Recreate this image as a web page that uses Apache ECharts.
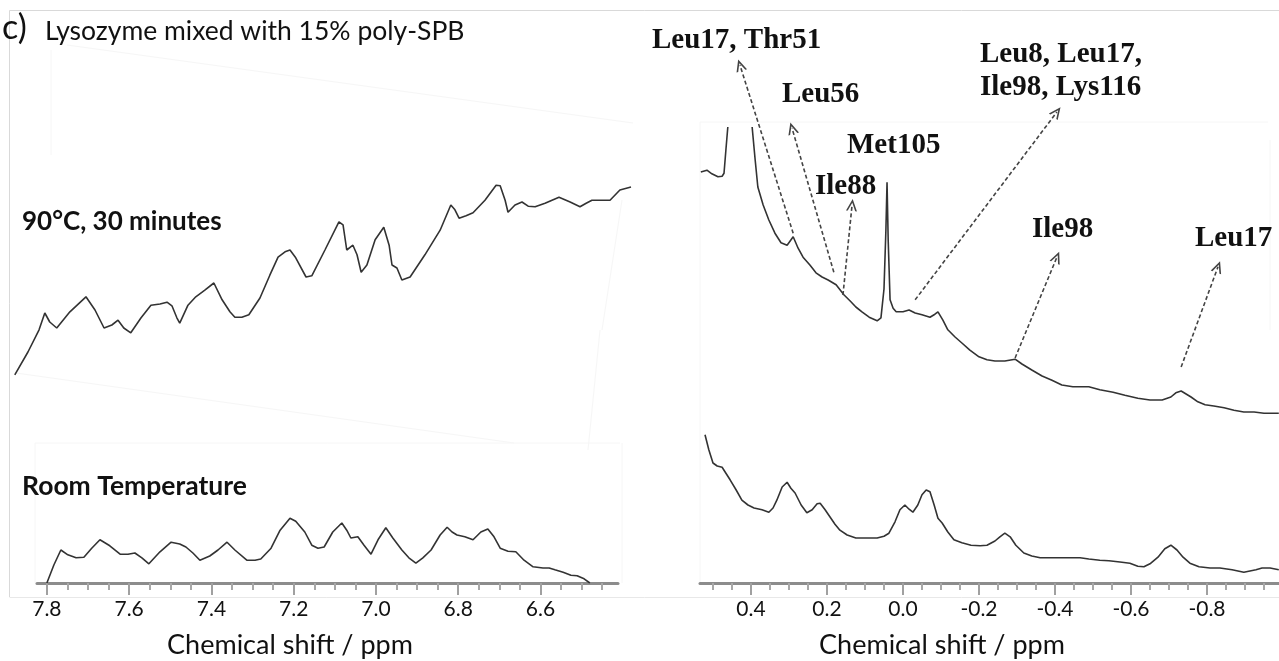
<!DOCTYPE html>
<html><head><meta charset="utf-8">
<script src="https://cdn.jsdelivr.net/npm/echarts@6/dist/echarts.min.js"></script>
<style>html,body{margin:0;padding:0;background:#fff}#c{width:1279px;height:661px}</style>
</head><body><div id="c"></div>
<script>
// ---- tick labels ----
const aromaticTicks = [7.8, 7.6, 7.4, 7.2, 7.0, 6.8, 6.6];
const methylTicks = [0.4, 0.2, 0.0, -0.2, -0.4, -0.6, -0.8];

// ---- spectra: [chemical shift ppm, intensity a.u.] ----
const aromaticHeated = [
[7.878,34.7],[7.846,38.5],[7.819,42.2],[7.805,45.0],[7.793,43.5],[7.776,42.5],[7.744,45.2],[7.705,47.7],
[7.683,45.5],[7.661,42.5],[7.642,43.0],[7.627,43.8],[7.613,42.5],[7.596,41.7],[7.571,44.2],[7.547,46.3],
[7.525,46.5],[7.508,46.8],[7.496,46.2],[7.484,44.2],[7.477,43.3],[7.457,46.3],[7.438,47.7],[7.416,48.8],
[7.394,50.0],[7.374,47.2],[7.355,45.2],[7.343,44.3],[7.326,44.3],[7.309,44.7],[7.282,47.5],[7.258,51.3],
[7.238,54.3],[7.221,55.2],[7.209,55.5],[7.195,54.2],[7.170,51.0],[7.156,51.2],[7.124,55.5],[7.090,60.2],
[7.080,59.7],[7.071,55.5],[7.056,56.3],[7.046,54.7],[7.036,51.8],[7.022,53.0],[7.002,57.2],[6.981,59.3],
[6.968,56.3],[6.961,53.0],[6.949,52.5],[6.937,50.5],[6.917,51.0],[6.881,54.7],[6.844,58.8],[6.818,63.0],
[6.808,62.2],[6.798,60.8],[6.781,61.2],[6.764,61.7],[6.735,63.8],[6.708,66.3],[6.698,66.2],[6.686,63.8],
[6.679,61.8],[6.662,63.0],[6.645,63.5],[6.630,62.8],[6.613,62.7],[6.589,63.3],[6.555,64.3],[6.528,63.5],
[6.504,62.7],[6.489,63.3],[6.475,63.8],[6.450,63.8],[6.431,63.8],[6.407,65.5],[6.380,66.0]
];
const aromaticRoom = [
[7.800,0.0],[7.783,3.0],[7.766,5.5],[7.749,4.7],[7.729,4.2],[7.710,4.3],[7.691,5.8],[7.671,7.2],
[7.647,6.2],[7.622,4.8],[7.603,4.8],[7.586,5.0],[7.569,4.2],[7.552,3.2],[7.525,5.2],[7.498,6.8],
[7.477,6.5],[7.462,6.0],[7.445,5.0],[7.428,3.8],[7.404,4.5],[7.384,5.5],[7.362,6.8],[7.343,5.5],
[7.314,3.8],[7.294,3.8],[7.280,4.0],[7.255,5.8],[7.233,8.8],[7.209,10.8],[7.195,10.3],[7.173,8.5],
[7.156,6.3],[7.141,5.8],[7.126,6.0],[7.105,8.5],[7.083,10.0],[7.071,8.8],[7.061,7.5],[7.044,7.7],
[7.029,6.3],[7.012,4.8],[6.995,7.2],[6.976,9.2],[6.959,7.5],[6.937,5.5],[6.920,4.2],[6.903,3.3],
[6.886,4.2],[6.866,5.5],[6.844,8.0],[6.827,9.3],[6.815,8.5],[6.803,8.0],[6.784,7.7],[6.764,7.2],
[6.745,8.5],[6.728,9.0],[6.713,7.7],[6.698,5.8],[6.679,5.3],[6.660,5.2],[6.640,3.8],[6.618,2.7],
[6.594,2.5],[6.579,2.5],[6.565,2.2],[6.545,1.8],[6.526,1.3],[6.511,1.2],[6.494,0.7],[6.480,0.0]
];
const methylHeated = [
[0.532,68.5],[0.516,68.8],[0.503,68.2],[0.487,67.7],[0.476,67.8],[0.471,68.3],[0.466,72.2],[0.461,76.0],
[0.430,'-'],
[0.397,76.0],[0.389,70.5],[0.382,66.0],[0.368,63.0],[0.353,60.5],[0.337,58.3],[0.321,56.7],[0.305,56.3],
[0.289,57.7],[0.276,55.8],[0.263,54.3],[0.245,53.0],[0.229,51.7],[0.213,51.0],[0.197,50.5],[0.176,49.7],
[0.155,48.0],[0.139,47.0],[0.124,46.0],[0.108,45.2],[0.089,44.3],[0.068,43.7],[0.058,44.2],[0.050,49.0],
[0.045,58.8],[0.042,66.8],[0.039,57.2],[0.034,47.2],[0.026,45.8],[0.018,45.2],[0.000,45.2],[-0.016,45.5],
[-0.032,45.0],[-0.050,44.7],[-0.071,44.3],[-0.084,44.8],[-0.092,45.2],[-0.105,43.8],[-0.118,42.2],[-0.137,41.0],
[-0.155,40.0],[-0.176,38.8],[-0.200,37.7],[-0.221,37.2],[-0.242,37.0],[-0.268,37.0],[-0.295,37.3],[-0.313,36.5],
[-0.339,35.5],[-0.366,34.5],[-0.392,33.8],[-0.418,33.0],[-0.447,32.7],[-0.489,32.7],[-0.518,32.2],[-0.553,31.8],
[-0.584,31.3],[-0.618,30.8],[-0.650,30.5],[-0.682,30.5],[-0.705,31.0],[-0.718,31.7],[-0.732,32.0],[-0.745,31.5],
[-0.758,31.0],[-0.776,30.2],[-0.795,29.7],[-0.818,29.5],[-0.845,29.2],[-0.871,28.8],[-0.897,28.5],[-0.924,28.5],
[-0.950,28.3],[-0.989,28.3]
];
const methylRoom = [
[0.521,24.7],[0.511,22.2],[0.500,20.0],[0.489,19.5],[0.476,19.3],[0.466,18.3],[0.455,17.2],[0.439,15.5],
[0.424,13.8],[0.408,13.0],[0.392,12.5],[0.371,12.2],[0.353,11.8],[0.342,12.5],[0.332,13.8],[0.318,16.0],
[0.305,16.8],[0.295,15.8],[0.284,15.0],[0.268,13.0],[0.253,11.7],[0.239,12.2],[0.226,13.2],[0.218,13.3],
[0.205,12.2],[0.192,11.0],[0.179,9.8],[0.166,8.8],[0.147,8.0],[0.124,7.5],[0.097,7.5],[0.068,7.5],
[0.050,7.8],[0.037,8.3],[0.021,10.2],[0.008,12.2],[-0.005,13.0],[-0.016,12.3],[-0.026,11.8],[-0.039,13.0],
[-0.050,14.7],[-0.061,15.5],[-0.071,15.2],[-0.082,13.0],[-0.092,10.8],[-0.103,10.0],[-0.118,8.5],[-0.134,7.2],
[-0.155,6.7],[-0.179,6.3],[-0.203,6.2],[-0.221,6.3],[-0.242,7.0],[-0.255,7.7],[-0.268,8.3],[-0.282,7.7],
[-0.297,6.3],[-0.318,5.0],[-0.339,4.5],[-0.361,4.2],[-0.400,4.2],[-0.437,4.2],[-0.466,4.2],[-0.489,4.0],
[-0.518,3.8],[-0.542,3.7],[-0.571,3.5],[-0.597,3.3],[-0.618,2.8],[-0.634,2.7],[-0.650,3.2],[-0.671,4.3],
[-0.689,5.7],[-0.705,6.3],[-0.721,5.5],[-0.737,4.3],[-0.755,3.3],[-0.779,2.7],[-0.808,2.5],[-0.834,2.5],
[-0.866,2.2],[-0.897,1.8],[-0.929,2.2],[-0.945,2.5],[-0.966,2.5],[-0.989,2.2]
];
// ---- assignment arrows: [from ppm, from a.u., to ppm, to a.u.] ----
const arrowLeu17Thr51 = [0.289, 58.3, 0.429, 86.3];
const arrowLeu56 = [0.182, 51.8, 0.292, 75.8];
const arrowIle88 = [0.158, 48.0, 0.134, 63.0];
const arrowLeu8group = [-0.032, 47.2, -0.405, 78.5];
const arrowIle98 = [-0.295, 37.5, -0.405, 54.3];
const arrowLeu17 = [-0.732, 36.0, -0.829, 52.7];
const arrows = [arrowLeu17Thr51, arrowLeu56, arrowIle88, arrowLeu8group, arrowIle98, arrowLeu17];

function minorValues(lo, hi, step, majors) {
  const out = [];
  for (let v = lo; v <= hi + 1e-9; v += step) {
    const r = Math.round(v * 100) / 100;
    if (!majors.some(m => Math.abs(m - r) < 1e-6)) out.push(r);
  }
  return out;
}
const aromaticMinor = minorValues(6.45, 7.80, 0.05, aromaticTicks);
const methylMinor = minorValues(-0.95, 0.50, 0.05, methylTicks);

const SANS = 'Lato, "Open Sans", sans-serif';
const SERIF = '"Liberation Serif", "DejaVu Serif", serif';
const lineCol = '#333';
const axisCol = '#8c8c8c';

// aromatic axis: 7.824 .. 6.4116 ppm across 581 px
const aroMax = 7.824, aroMin = 6.4116, aroLeft = 37, aroWidth = 581;
const aroScale = aroWidth / (aroMax - aroMin);
// wider hidden axis (same scale) for the tilted heated trace that runs past the axis ends
const wideLeft = 10, wideWidth = 630;
const wideMax = aroMax + (aroLeft - wideLeft) / aroScale;
const wideMin = wideMax - wideWidth / aroScale;

function majorAxis(grid, min, max, ticks) {
  return {
    type: 'value', gridIndex: grid, inverse: true, min: min, max: max, position: 'bottom',
    splitLine: { show: false },
    axisLine: { show: true, lineStyle: { color: axisCol, width: 3 } },
    axisTick: { show: true, inside: false, length: 12, customValues: ticks, lineStyle: { color: '#a0a0a0', width: 2 } },
    axisLabel: { show: true, customValues: ticks, margin: 16, fontFamily: SANS, fontSize: 21, color: '#111',
      formatter: v => v.toFixed(1) }
  };
}
function minorAxis(grid, min, max, ticks) {
  return {
    type: 'value', gridIndex: grid, inverse: true, min: min, max: max, position: 'bottom',
    splitLine: { show: false },
    axisLine: { show: false },
    axisTick: { show: true, inside: false, length: 7, customValues: ticks, lineStyle: { color: '#a8a8a8', width: 2 } },
    axisLabel: { show: false }
  };
}
function faint(x1, y1, x2, y2) {
  return { type: 'line', silent: true, z: -2, shape: { x1: x1, y1: y1, x2: x2, y2: y2 }, style: { stroke: '#f6f6f6', lineWidth: 1 } };
}
function label(x, y, text, font, align) {
  return { type: 'text', silent: true, x: x, y: y, style: { text: text, font: font, fill: '#111', verticalAlign: 'middle', align: align || 'left' } };
}

const chart = echarts.init(document.getElementById('c'), null, { renderer: 'canvas' });
const option = {
  animation: false,
  backgroundColor: '#fff',
  grid: [
    { left: aroLeft, width: aroWidth, top: 10, height: 573 },
    { left: 700, width: 579, top: 10, height: 573 },
    { left: wideLeft, width: wideWidth, top: 10, height: 573 }
  ],
  xAxis: [
    majorAxis(0, aroMin, aroMax, aromaticTicks),
    minorAxis(0, aroMin, aroMax, aromaticMinor),
    majorAxis(1, -0.9895, 0.5342, methylTicks),
    minorAxis(1, -0.9895, 0.5342, methylMinor),
    { type: 'value', gridIndex: 2, inverse: true, min: wideMin, max: wideMax, show: false }
  ],
  yAxis: [
    { type: 'value', gridIndex: 0, min: 0, max: 95.5, show: false },
    { type: 'value', gridIndex: 1, min: 0, max: 95.5, show: false },
    { type: 'value', gridIndex: 2, min: 0, max: 95.5, show: false }
  ],
  series: [
    { type: 'line', name: '90°C aromatic', xAxisIndex: 4, yAxisIndex: 2, data: aromaticHeated, showSymbol: false,
      lineStyle: { color: lineCol, width: 1.6 }, silent: true },
    { type: 'line', name: 'RT aromatic', xAxisIndex: 0, yAxisIndex: 0, data: aromaticRoom, showSymbol: false,
      lineStyle: { color: lineCol, width: 1.6 }, silent: true },
    { type: 'line', name: '90°C methyl', xAxisIndex: 2, yAxisIndex: 1, data: methylHeated, showSymbol: false, connectNulls: false,
      lineStyle: { color: lineCol, width: 1.6 }, silent: true,
      markLine: {
        silent: true, animation: false,
        symbol: ['none', 'path://M0,10 L5,0 L10,10 L8.4,10 L5,3.2 L1.6,10 Z'],
        symbolSize: [11, 12],
        label: { show: false },
        lineStyle: { color: '#444', width: 1.6, type: [4, 2.5] },
        data: arrows.map(a => [{ coord: [a[0], a[1]] }, { coord: [a[2], a[3]] }])
      } },
    { type: 'line', name: 'RT methyl', xAxisIndex: 2, yAxisIndex: 1, data: methylRoom, showSymbol: false,
      lineStyle: { color: lineCol, width: 1.6 }, silent: true }
  ],
  graphic: [
    { type: 'polyline', silent: true, z: -1, shape: { points: [[9.5, 597], [9.5, 10.5], [1279, 10.5]] }, style: { stroke: '#d9d9d9', lineWidth: 1, fill: null } },
    { type: 'line', silent: true, z: -1, shape: { x1: 9.5, y1: 597.5, x2: 1279, y2: 597.5 }, style: { stroke: '#e8e8e8', lineWidth: 1 } },
    // very faint edges of the pasted spectrum images
    faint(67, 45, 633, 123), faint(51, 50, 51, 155), faint(622, 200, 602, 330),
    faint(16, 373, 514, 443), faint(600, 330, 588, 450),
    faint(35, 443, 620, 443), faint(35, 443, 35, 583), faint(622, 443, 622, 583),
    faint(700, 122, 1268, 122), faint(700, 122, 700, 583), faint(1270, 140, 1270, 330),
    label(2, 28, 'c)', '34px ' + SANS),
    label(45, 31, 'Lysozyme mixed with 15% poly-SPB', '26.5px ' + SANS),
    label(22, 222, '90°C, 30 minutes', 'bold 26px ' + SANS),
    label(22, 486, 'Room Temperature', 'bold 26.5px ' + SANS),
    label(290, 645, 'Chemical shift / ppm', '27px ' + SANS, 'center'),
    label(942, 645, 'Chemical shift / ppm', '27px ' + SANS, 'center'),
    label(652, 41, 'Leu17, Thr51', 'bold 29px ' + SERIF),
    label(782, 95, 'Leu56', 'bold 29px ' + SERIF),
    label(847, 146, 'Met105', 'bold 29px ' + SERIF),
    label(815, 187, 'Ile88', 'bold 29px ' + SERIF),
    label(980, 55, 'Leu8, Leu17,', 'bold 29px ' + SERIF),
    label(980, 88, 'Ile98, Lys116', 'bold 29px ' + SERIF),
    label(1032, 230, 'Ile98', 'bold 29px ' + SERIF),
    label(1195, 239, 'Leu17', 'bold 29px ' + SERIF)
  ]
};
chart.setOption(option);
</script>
</body></html>
